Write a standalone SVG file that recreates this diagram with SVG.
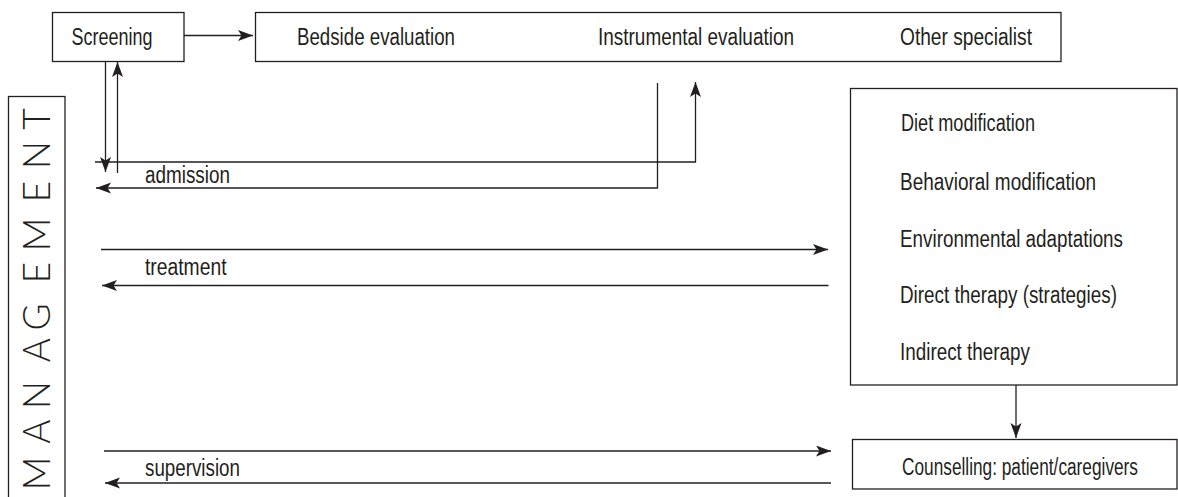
<svg xmlns="http://www.w3.org/2000/svg" width="1178" height="497" viewBox="0 0 1178 497">
  <style>
    .box { fill: #ffffff; stroke: #231f20; stroke-width: 1.3; }
    .wire { fill: none; stroke: #231f20; stroke-width: 1.3; }
    .arrow { marker-end: url(#head); }
    .lbl { font-family: "Liberation Sans Narrow", "Liberation Sans", Arial, sans-serif; font-size: 23px; fill: #231f20; }
    .side { font-family: Lato, "Liberation Sans", sans-serif; font-weight: 300; font-size: 37px; fill: #231f20; }
  </style>
  <defs>
    <marker id="head" markerUnits="userSpaceOnUse" markerWidth="16" markerHeight="12" refX="15" refY="5.5" orient="auto">
      <path d="M0,0 L15,5.5 L0,11 L3.5,5.5 Z" fill="#231f20"/>
    </marker>
  </defs>

  <rect width="1178" height="497" fill="#ffffff"/>

  <!-- side banner -->
  <g id="management">
    <rect class="box" x="8.5" y="96.5" width="56.5" height="420"/>
    <text class="side" transform="translate(50,0) rotate(-90)" text-anchor="middle"
          x="-473.5 -431.5 -395 -350 -317 -272.5 -234.5 -191.5 -155 -119" y="0">MANAGEMENT</text>
  </g>

  <g id="screening">
    <rect class="box" x="52.5" y="12.5" width="131.5" height="49"/>
    <text class="lbl" x="71.5" y="45" textLength="81" lengthAdjust="spacingAndGlyphs">Screening</text>
  </g>

  <g id="evaluation">
    <rect class="box" x="255.5" y="12.5" width="805.5" height="49"/>
    <text class="lbl" x="297" y="45" textLength="158" lengthAdjust="spacingAndGlyphs">Bedside evaluation</text>
    <text class="lbl" x="598" y="45" textLength="196" lengthAdjust="spacingAndGlyphs">Instrumental evaluation</text>
    <text class="lbl" x="900" y="45" textLength="132" lengthAdjust="spacingAndGlyphs">Other specialist</text>
  </g>

  <g id="interventions">
    <rect class="box" x="850.5" y="88.5" width="326.5" height="296.5"/>
    <text class="lbl" x="901" y="131" textLength="134" lengthAdjust="spacingAndGlyphs">Diet modification</text>
    <text class="lbl" x="900" y="190" textLength="196" lengthAdjust="spacingAndGlyphs">Behavioral modification</text>
    <text class="lbl" x="900" y="247" textLength="223" lengthAdjust="spacingAndGlyphs">Environmental adaptations</text>
    <text class="lbl" x="900" y="303" textLength="217" lengthAdjust="spacingAndGlyphs">Direct therapy (strategies)</text>
    <text class="lbl" x="900" y="360" textLength="130" lengthAdjust="spacingAndGlyphs">Indirect therapy</text>
  </g>

  <g id="counselling">
    <rect class="box" x="852.5" y="439.5" width="324.5" height="49.5"/>
    <text class="lbl" x="902" y="475" textLength="236" lengthAdjust="spacingAndGlyphs">Counselling: patient/caregivers</text>
  </g>

  <g id="connectors">
    <path class="wire arrow" d="M184,35.5 H253"/>
    <path class="wire arrow" d="M105.5,62 V172"/>
    <path class="wire arrow" d="M117.5,173 V62"/>
    <path class="wire arrow" d="M95,162 H695.5 V82"/>
    <path class="wire arrow" d="M657.5,83 V188 H96"/>
    <path class="wire arrow" d="M101,249.5 H828"/>
    <path class="wire arrow" d="M828.5,285.5 H102"/>
    <path class="wire arrow" d="M104,451 H831"/>
    <path class="wire arrow" d="M831,483 H105"/>
    <path class="wire arrow" d="M1016,385 V438"/>
  </g>

  <g id="labels">
    <text class="lbl" x="145" y="183" textLength="85" lengthAdjust="spacingAndGlyphs">admission</text>
    <text class="lbl" x="145" y="274.5" textLength="81.5" lengthAdjust="spacingAndGlyphs">treatment</text>
    <text class="lbl" x="145" y="476" textLength="95" lengthAdjust="spacingAndGlyphs">supervision</text>
  </g>
</svg>
